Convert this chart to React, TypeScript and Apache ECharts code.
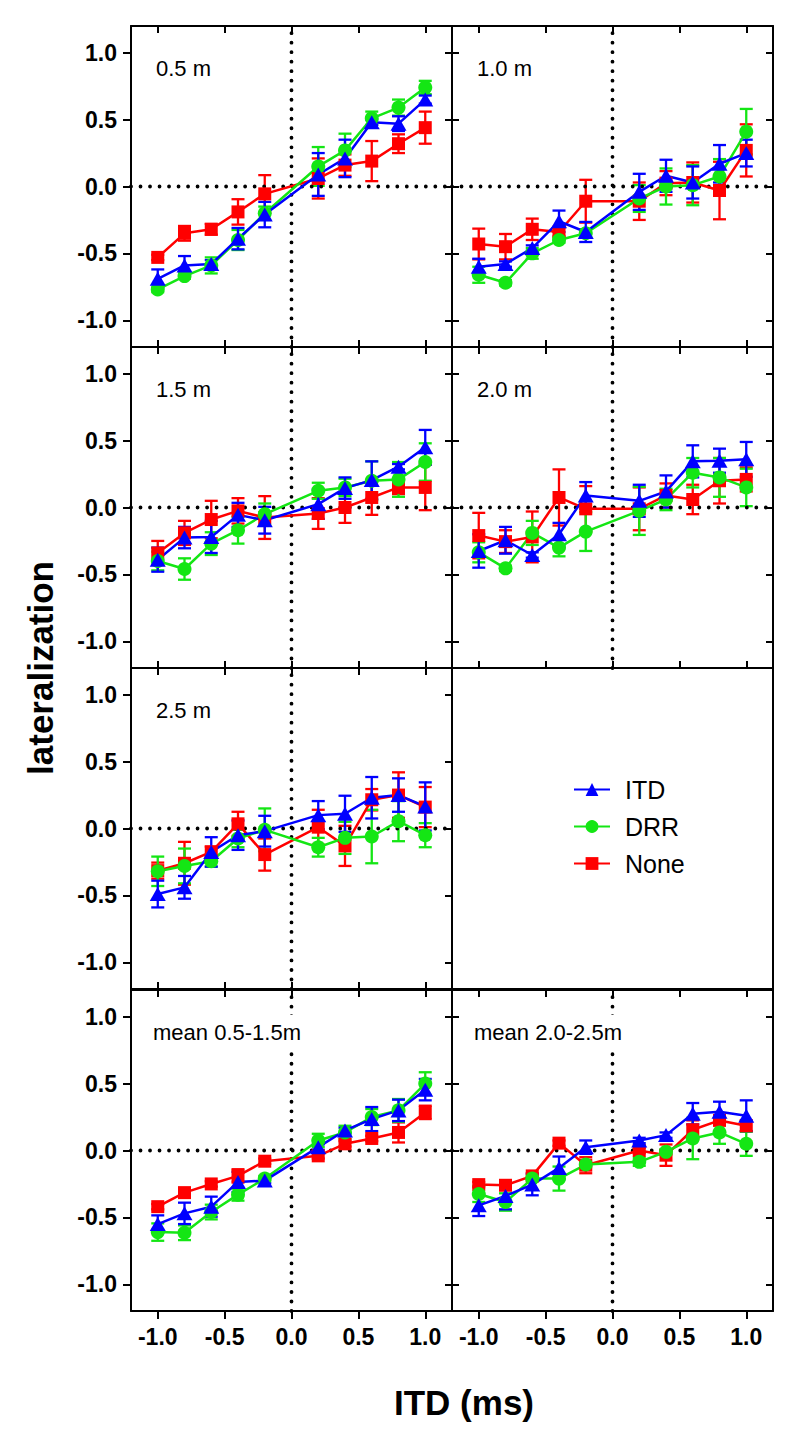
import React, { useEffect, useRef } from 'react';
import * as echarts from 'echarts';

// ---------- data ----------
const itdValues = [-1.0, -0.8, -0.6, -0.4, -0.2, 0.2, 0.4, 0.6, 0.8, 1.0];
const tickValues = [-1, -0.5, 0, 0.5, 1];
const refLine = [-1.2, 1.2];
const legendNames = ['ITD', 'DRR', 'None'];

// 0.5 m
const p05_itd = [-0.69, -0.59, -0.58, -0.39, -0.21, 0.09, 0.21, 0.48, 0.47, 0.65];
const p05_itdErr = [0.07, 0.07, 0.03, 0.08, 0.095, 0.16, 0.14, 0.02, 0.055, 0.03];
const p05_drr = [-0.77, -0.67, -0.59, -0.40, -0.20, 0.15, 0.27, 0.51, 0.59, 0.74];
const p05_drrErr = [0.02, 0.02, 0.06, 0.075, 0.05, 0.145, 0.125, 0.05, 0.06, 0.05];
const p05_none = [-0.53, -0.35, -0.32, -0.19, -0.055, 0.06, 0.16, 0.19, 0.32, 0.44];
const p05_noneErr = [0.02, 0.055, 0.04, 0.095, 0.14, 0.15, 0.08, 0.15, 0.07, 0.12];

// 1.0 m
const p10_itd = [-0.60, -0.58, -0.46, -0.26, -0.34, -0.04, 0.08, 0.03, 0.17, 0.25];
const p10_itdErr = [0.06, 0.02, 0.02, 0.08, 0.075, 0.135, 0.12, 0.12, 0.14, 0.10];
const p10_drr = [-0.66, -0.72, -0.50, -0.40, -0.35, -0.09, 0.0, 0.01, 0.075, 0.41];
const p10_drrErr = [0.06, 0.02, 0.04, 0.02, 0.03, 0.10, 0.135, 0.15, 0.13, 0.17];
const p10_none = [-0.43, -0.45, -0.32, -0.34, -0.11, -0.11, 0.025, 0.03, -0.03, 0.27];
const p10_noneErr = [0.115, 0.095, 0.08, 0.03, 0.16, 0.14, 0.09, 0.15, 0.215, 0.195];

// 1.5 m
const p15_itd = [-0.39, -0.225, -0.22, -0.055, -0.095, 0.025, 0.145, 0.205, 0.305, 0.45];
const p15_itdErr = [0.09, 0.08, 0.12, 0.09, 0.10, 0.11, 0.08, 0.14, 0.02, 0.13];
const p15_drr = [-0.40, -0.46, -0.27, -0.17, -0.05, 0.125, 0.15, 0.20, 0.21, 0.34];
const p15_drrErr = [0.07, 0.08, 0.085, 0.10, 0.08, 0.06, 0.065, 0.145, 0.13, 0.14];
const p15_none = [-0.34, -0.19, -0.09, -0.025, -0.075, -0.045, 0.0, 0.075, 0.15, 0.15];
const p15_noneErr = [0.09, 0.09, 0.14, 0.095, 0.16, 0.115, 0.115, 0.13, 0.05, 0.17];

// 2.0 m
const p20_itd = [-0.325, -0.245, -0.355, -0.20, 0.09, 0.05, 0.12, 0.345, 0.35, 0.36];
const p20_itdErr = [0.125, 0.10, 0.02, 0.085, 0.10, 0.12, 0.12, 0.12, 0.09, 0.13];
const p20_drr = [-0.335, -0.455, -0.19, -0.30, -0.18, -0.025, 0.06, 0.26, 0.225, 0.15];
const p20_drrErr = [0.075, 0.02, 0.09, 0.065, 0.145, 0.18, 0.08, 0.11, 0.145, 0.14];
const p20_none = [-0.21, -0.255, -0.22, 0.075, -0.01, -0.01, 0.09, 0.06, 0.20, 0.21];
const p20_noneErr = [0.17, 0.085, 0.19, 0.21, 0.17, 0.16, 0.09, 0.11, 0.17, 0.09];

// 2.5 m
const p25_itd = [-0.49, -0.44, -0.175, -0.05, -0.02, 0.10, 0.11, 0.23, 0.25, 0.165];
const p25_itdErr = [0.10, 0.085, 0.11, 0.11, 0.115, 0.105, 0.135, 0.155, 0.125, 0.18];
const p25_drr = [-0.32, -0.28, -0.245, -0.075, -0.01, -0.14, -0.07, -0.06, 0.055, -0.05];
const p25_drrErr = [0.11, 0.13, 0.04, 0.065, 0.16, 0.07, 0.12, 0.2, 0.15, 0.09];
const p25_none = [-0.315, -0.26, -0.175, 0.035, -0.195, 0.01, -0.13, 0.215, 0.25, 0.16];
const p25_noneErr = [0.06, 0.16, 0.04, 0.09, 0.12, 0.13, 0.15, 0.08, 0.17, 0.15];

// mean 0.5-1.5 m
const pm1_itd = [-0.55, -0.47, -0.42, -0.235, -0.225, 0.025, 0.15, 0.235, 0.30, 0.455];
const pm1_itdErr = [0.065, 0.08, 0.075, 0.075, 0.02, 0.02, 0.02, 0.09, 0.08, 0.08];
const pm1_drr = [-0.61, -0.615, -0.46, -0.33, -0.21, 0.075, 0.135, 0.25, 0.30, 0.50];
const pm1_drrErr = [0.065, 0.055, 0.055, 0.045, 0.02, 0.05, 0.05, 0.06, 0.085, 0.085];
const pm1_none = [-0.42, -0.315, -0.25, -0.19, -0.08, -0.04, 0.05, 0.09, 0.135, 0.285];
const pm1_noneErr = [0.02, 0.02, 0.02, 0.05, 0.02, 0.02, 0.02, 0.02, 0.075, 0.05];

// mean 2.0-2.5 m
const pm2_itd = [-0.41, -0.34, -0.255, -0.13, 0.025, 0.075, 0.115, 0.275, 0.29, 0.26];
const pm2_itdErr = [0.08, 0.10, 0.08, 0.085, 0.05, 0.02, 0.02, 0.08, 0.075, 0.115];
const pm2_drr = [-0.325, -0.385, -0.21, -0.21, -0.105, -0.085, -0.01, 0.09, 0.135, 0.05];
const pm2_drrErr = [0.06, 0.065, 0.02, 0.09, 0.02, 0.03, 0.02, 0.155, 0.085, 0.09];
const pm2_none = [-0.255, -0.26, -0.19, 0.055, -0.11, 0.0, -0.035, 0.155, 0.225, 0.185];
const pm2_noneErr = [0.02, 0.02, 0.02, 0.02, 0.06, 0.02, 0.08, 0.07, 0.02, 0.04];

// ---------- layout / style ----------
const FONT = "'Liberation Sans', Arial, Helvetica, sans-serif";
const COLORS: Record<string, string> = { ITD: '#0000ff', DRR: '#14e614', None: '#ff0000' };
const SYMBOLS: Record<string, any> = {
  ITD: { symbol: 'triangle', size: [16, 14] },
  DRR: { symbol: 'circle', size: 14 },
  None: { symbol: 'rect', size: 13 },
};
const GRID_LEFTS = [131, 452];
const GRID_TOPS = [26, 347, 668, 990];
const GW = 321;
const GH = 321;

type Panel = {
  label: string; row: number; col: number; mean?: boolean;
  itd: number[]; itdErr: number[]; drr: number[]; drrErr: number[]; none: number[]; noneErr: number[];
};

const panels: Panel[] = [
  { label: '0.5 m', row: 0, col: 0, itd: p05_itd, itdErr: p05_itdErr, drr: p05_drr, drrErr: p05_drrErr, none: p05_none, noneErr: p05_noneErr },
  { label: '1.0 m', row: 0, col: 1, itd: p10_itd, itdErr: p10_itdErr, drr: p10_drr, drrErr: p10_drrErr, none: p10_none, noneErr: p10_noneErr },
  { label: '1.5 m', row: 1, col: 0, itd: p15_itd, itdErr: p15_itdErr, drr: p15_drr, drrErr: p15_drrErr, none: p15_none, noneErr: p15_noneErr },
  { label: '2.0 m', row: 1, col: 1, itd: p20_itd, itdErr: p20_itdErr, drr: p20_drr, drrErr: p20_drrErr, none: p20_none, noneErr: p20_noneErr },
  { label: '2.5 m', row: 2, col: 0, itd: p25_itd, itdErr: p25_itdErr, drr: p25_drr, drrErr: p25_drrErr, none: p25_none, noneErr: p25_noneErr },
  { label: 'mean 0.5-1.5m', row: 3, col: 0, mean: true, itd: pm1_itd, itdErr: pm1_itdErr, drr: pm1_drr, drrErr: pm1_drrErr, none: pm1_none, noneErr: pm1_noneErr },
  { label: 'mean 2.0-2.5m', row: 3, col: 1, mean: true, itd: pm2_itd, itdErr: pm2_itdErr, drr: pm2_drr, drrErr: pm2_drrErr, none: pm2_none, noneErr: pm2_noneErr },
];

const axisLineStyle = { color: '#000', width: 2 };
const fmt = (v: number) => v.toFixed(1);

function makeAxis(gridIndex: number, position: string, opts: { ticks: 'in' | 'out' | 'none'; labels: boolean }) {
  return {
    type: 'value',
    gridIndex,
    position,
    min: -1.2,
    max: 1.2,
    splitLine: { show: false },
    axisLine: { show: true, onZero: false, lineStyle: axisLineStyle },
    axisTick: {
      show: opts.ticks !== 'none',
      inside: opts.ticks === 'in',
      length: opts.ticks === 'in' ? 7 : 8,
      lineStyle: { color: '#000', width: 2 },
      customValues: tickValues,
    },
    axisLabel: {
      show: opts.labels,
      customValues: tickValues,
      formatter: fmt,
      margin: 14,
      color: '#000',
      fontSize: 23,
      fontWeight: 'bold',
      fontFamily: FONT,
    },
    axisPointer: { show: false },
  };
}

function errorSeries(name: string, axisIdx: number, vals: number[], errs: number[]) {
  const color = COLORS[name];
  return {
    type: 'custom',
    name: name + ' error',
    xAxisIndex: axisIdx,
    yAxisIndex: axisIdx,
    silent: true,
    data: itdValues.map((x, i) => [x, vals[i], errs[i]]),
    renderItem: (params: any, api: any) => {
      const x = api.value(0);
      const y = api.value(1);
      const e = api.value(2);
      const hi = api.coord([x, y + e]);
      const lo = api.coord([x, y - e]);
      const cw = 6.5;
      const style = { stroke: color, lineWidth: 2.3 };
      return {
        type: 'group',
        children: [
          { type: 'line', shape: { x1: hi[0], y1: hi[1], x2: lo[0], y2: lo[1] }, style },
          { type: 'line', shape: { x1: hi[0] - cw, y1: hi[1], x2: hi[0] + cw, y2: hi[1] }, style },
          { type: 'line', shape: { x1: lo[0] - cw, y1: lo[1], x2: lo[0] + cw, y2: lo[1] }, style },
        ],
      };
    },
  };
}

function lineSeries(name: string, axisIdx: number, vals: number[]) {
  const color = COLORS[name];
  return {
    type: 'line',
    name,
    xAxisIndex: axisIdx,
    yAxisIndex: axisIdx,
    silent: true,
    data: itdValues.map((x, i) => [x, vals[i]]),
    symbol: SYMBOLS[name].symbol,
    symbolSize: SYMBOLS[name].size,
    showAllSymbol: true,
    lineStyle: { color, width: 2.5 },
    itemStyle: { color, opacity: 1 },
    emphasis: { disabled: true },
  };
}

function refSeries(axisIdx: number, vertical: boolean) {
  return {
    type: 'line',
    name: 'ref',
    xAxisIndex: axisIdx,
    yAxisIndex: axisIdx,
    silent: true,
    symbol: 'none',
    data: refLine.map((v) => (vertical ? [0, v] : [v, 0])),
    lineStyle: { color: '#000', width: 3.8, type: [0.01, 9.5], cap: 'round' },
    emphasis: { disabled: true },
  };
}

function buildOption() {
  const grids: any[] = [];
  const xAxes: any[] = [];
  const yAxes: any[] = [];
  const series: any[] = [];
  const titles: any[] = [];

  const slots: { row: number; col: number; panel?: Panel }[] = [];
  for (let r = 0; r < 4; r++) {
    for (let c = 0; c < 2; c++) {
      const p = panels.find((pp) => pp.row === r && pp.col === c);
      slots.push({ row: r, col: c, panel: p });
    }
  }

  slots.forEach((s, gi) => {
    grids.push({ left: GRID_LEFTS[s.col], top: GRID_TOPS[s.row], width: GW, height: GH, containLabel: false });
    const has = !!s.panel;
    const bottomRow = s.row === 3;
    xAxes.push(makeAxis(gi, 'bottom', { ticks: has ? (bottomRow ? 'out' : 'in') : 'none', labels: has && bottomRow }));
    xAxes.push(makeAxis(gi, 'top', { ticks: has ? 'in' : 'none', labels: false }));
    yAxes.push(makeAxis(gi, 'left', { ticks: has ? (s.col === 0 ? 'out' : 'in') : 'none', labels: has && s.col === 0 }));
    yAxes.push(makeAxis(gi, 'right', { ticks: has ? 'in' : 'none', labels: false }));

    if (s.panel) {
      const p = s.panel;
      const ai = 2 * gi;
      series.push(refSeries(ai, false));
      series.push(refSeries(ai, true));
      series.push(errorSeries('None', ai, p.none, p.noneErr));
      series.push(lineSeries('None', ai, p.none));
      series.push(errorSeries('DRR', ai, p.drr, p.drrErr));
      series.push(lineSeries('DRR', ai, p.drr));
      series.push(errorSeries('ITD', ai, p.itd, p.itdErr));
      series.push(lineSeries('ITD', ai, p.itd));
      const pad = p.mean ? [6, 3] : [2, 2];
      titles.push({
        text: p.label,
        left: GRID_LEFTS[s.col] + (p.mean ? 22 : 25) - pad[1],
        top: GRID_TOPS[s.row] + 42 - 11 - pad[0],
        padding: pad,
        backgroundColor: p.mean ? '#fff' : 'transparent',
        textStyle: { fontSize: 22, fontWeight: 'normal', color: '#000', fontFamily: FONT },
        z: 10,
      });
    }
  });

  return {
    animation: false,
    backgroundColor: '#fff',
    title: titles,
    grid: grids,
    xAxis: xAxes,
    yAxis: yAxes,
    series,
    legend: {
      data: legendNames,
      orient: 'vertical',
      left: 568,
      top: 772,
      itemWidth: 36,
      itemHeight: 16,
      itemGap: 12,
      selectedMode: false,
      textStyle: { fontSize: 25, color: '#000', fontFamily: FONT, padding: [0, 0, 0, 10] },
    },
    graphic: [
      {
        type: 'text',
        x: 40,
        y: 668,
        rotation: Math.PI / 2,
        style: { text: 'lateralization', fill: '#000', font: `bold 35px ${FONT}`, align: 'center', verticalAlign: 'middle' },
      },
      {
        type: 'text',
        x: 464,
        y: 1402,
        style: { text: 'ITD (ms)', fill: '#000', font: `bold 35px ${FONT}`, align: 'center', verticalAlign: 'middle' },
      },
    ],
  };
}

export default function App() {
  const ref = useRef<HTMLDivElement>(null);
  useEffect(() => {
    if (!ref.current) return;
    const chart = echarts.init(ref.current, undefined, { renderer: 'svg' });
    chart.setOption(buildOption() as any);
    return () => chart.dispose();
  }, []);
  return (
    <div
      ref={ref}
      style={{ position: 'absolute', left: 0, top: 0, width: 800, height: 1445, background: '#fff' }}
    />
  );
}
